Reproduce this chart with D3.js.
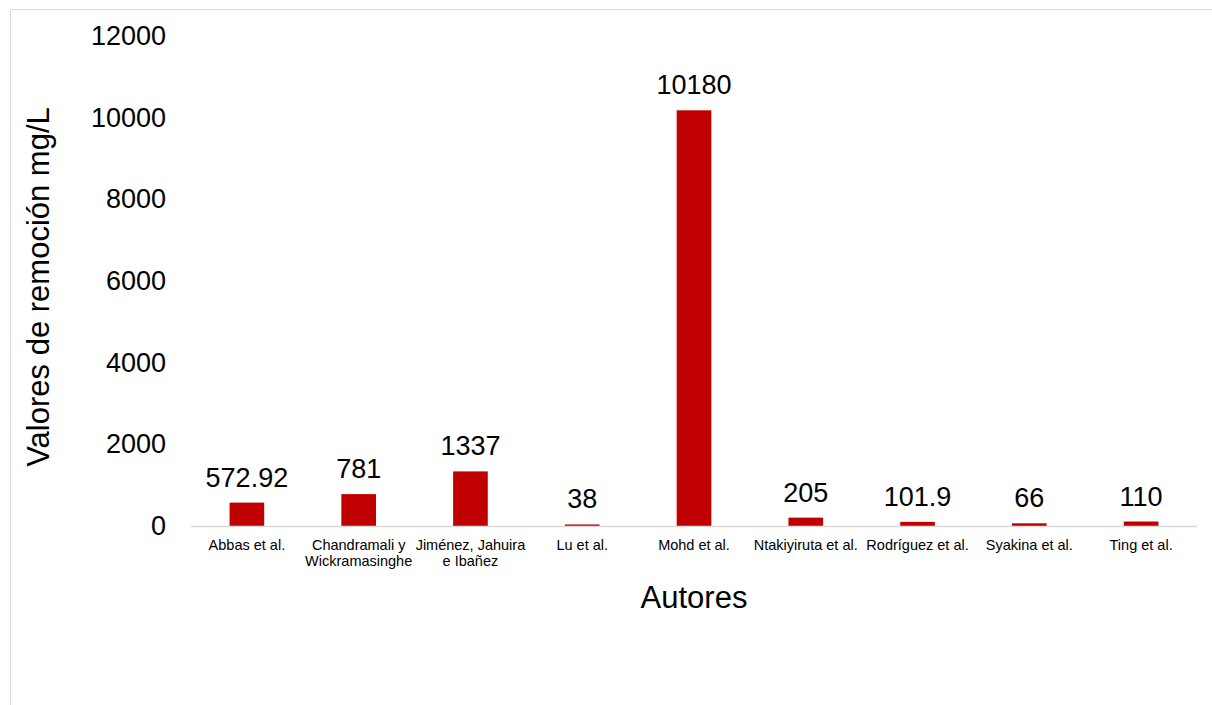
<!DOCTYPE html>
<html><head><meta charset="utf-8">
<script src="https://cdn.jsdelivr.net/npm/d3@7"></script>
<style>body{margin:0;background:#fff}svg{display:block;font-family:"Liberation Sans",Arial,sans-serif}</style>
</head><body><svg id="c" width="1212" height="705"></svg>
<script>
const categories = ["Abbas et al.", "Chandramali y\nWickramasinghe", "Jiménez, Jahuira\ne Ibañez", "Lu et al.", "Mohd et al.", "Ntakiyiruta et al.", "Rodríguez et al.", "Syakina et al.", "Ting et al."];
const values = [572.92, 781, 1337, 38, 10180, 205, 101.9, 66, 110];
const valueLabels = ["572.92", "781", "1337", "38", "10180", "205", "101.9", "66", "110"];
const yTicks = [0, 2000, 4000, 6000, 8000, 10000, 12000];

const svg = d3.select("#c");
const m = {l:191, r:1197, t:36, b:526};
// frame
svg.append("line").attr("x1",10.5).attr("x2",1212).attr("y1",9.5).attr("y2",9.5).attr("stroke","#d9d9d9");
svg.append("line").attr("x1",10.5).attr("x2",10.5).attr("y1",9.5).attr("y2",705).attr("stroke","#d9d9d9");

const x = d3.scaleBand().domain(categories).range([m.l, m.r]).paddingInner(0.69).paddingOuter(0.345);
const y = d3.scaleLinear().domain([0, 12000]).range([m.b, m.t]);

const yAxis = svg.append("g").attr("transform",`translate(${m.l},0)`)
  .call(d3.axisLeft(y).tickValues(yTicks).tickSize(0).tickPadding(25).tickFormat(d3.format("d")));
yAxis.select(".domain").remove();
yAxis.selectAll("text").attr("font-size",27).attr("fill","#000").attr("font-family","Liberation Sans, Arial, sans-serif");

svg.selectAll("rect.bar").data(values).join("rect").attr("class","bar")
  .attr("x",(d,i)=>x(categories[i])).attr("width",x.bandwidth())
  .attr("y",d=>y(d)).attr("height",d=>y(0)-y(d)).attr("fill","#C00000");

svg.append("line").attr("x1",m.l).attr("x2",m.r).attr("y1",m.b+0.5).attr("y2",m.b+0.5).attr("stroke","#d9d9d9").attr("stroke-width",1.5);

svg.selectAll("text.vl").data(values).join("text").attr("class","vl")
  .attr("x",(d,i)=>x(categories[i])+x.bandwidth()/2).attr("y",d=>y(d)-16)
  .attr("text-anchor","middle").attr("font-size",27).attr("fill","#000")
  .text((d,i)=>valueLabels[i]);

const cl = svg.selectAll("text.cl").data(categories).join("text").attr("class","cl")
  .attr("text-anchor","middle").attr("font-size",14.5).attr("fill","#000");
cl.each(function(d){
  const t = d3.select(this);
  d.split("\n").forEach((s,j)=>{
    t.append("tspan").attr("x",x(d)+x.bandwidth()/2).attr("y",550+j*16).text(s);
  });
});

svg.append("text").attr("x",(m.l+m.r)/2).attr("y",608).attr("text-anchor","middle").attr("font-size",31).text("Autores");
svg.append("text").attr("transform","translate(49,287) rotate(-90)").attr("text-anchor","middle").attr("font-size",31).text("Valores de remoción mg/L");
</script></body></html>
